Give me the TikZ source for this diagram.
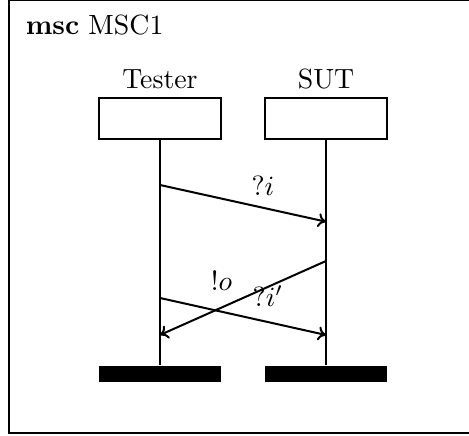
\documentclass[tikz,border=0pt]{standalone}
\usepackage{tikz}
\usetikzlibrary{arrows.meta,positioning,calc}

\begin{document}
\begin{tikzpicture}[
  x=1pt, y=1pt,
  line width=2pt,
  lbl/.style={font=\fontsize{10}{12}\selectfont, scale=2.78, transform shape, inner sep=1pt},
  inst/.style={draw, minimum width=122pt, minimum height=41.6pt, inner sep=0pt},
  endbar/.style={fill=black, minimum width=122pt, minimum height=16.6pt, inner sep=0pt},
  msg/.style={-{To[length=8pt, width=14pt]}}
]
\useasboundingbox (0,0) rectangle (469,436);
\draw (8.5,2.5) rectangle (475,435.5);
\node[lbl, anchor=base west, inner sep=0pt] (title) at (23,401) {\textbf{msc} MSC1};

\node[inst] (testerbox) at (160,317.5) {};
\node[inst] (sutbox) at (326,317.5) {};
\node[lbl, anchor=base] (testerhead) at (160,347) {Tester};
\node[lbl, anchor=base] (suthead) at (326,347) {SUT};

\node[endbar] (testerend) at (160,62) {};
\node[endbar] (sutend) at (326,62) {};

\draw (testerbox.south) -- (testerend.north);
\draw (sutbox.south) -- (sutend.north);

\coordinate (t1) at (160,251);
\coordinate (s1) at (326,214.3);
\coordinate (s2) at (326,175);
\coordinate (t2) at (160,101);
\coordinate (t3) at (160,138);
\coordinate (s3) at (326,101);

\draw[msg] (t1) -- node[lbl, pos=.62, above=7pt] (qi) {$?i$} (s1);
\draw[msg] (s2) -- node[lbl, pos=.63, above=12pt] (xo) {$!o$} (t2);
\draw[msg] (t3) -- node[lbl, pos=.65, above=10pt] (qi2) {$?i'$} (s3);
\end{tikzpicture}
\end{document}
